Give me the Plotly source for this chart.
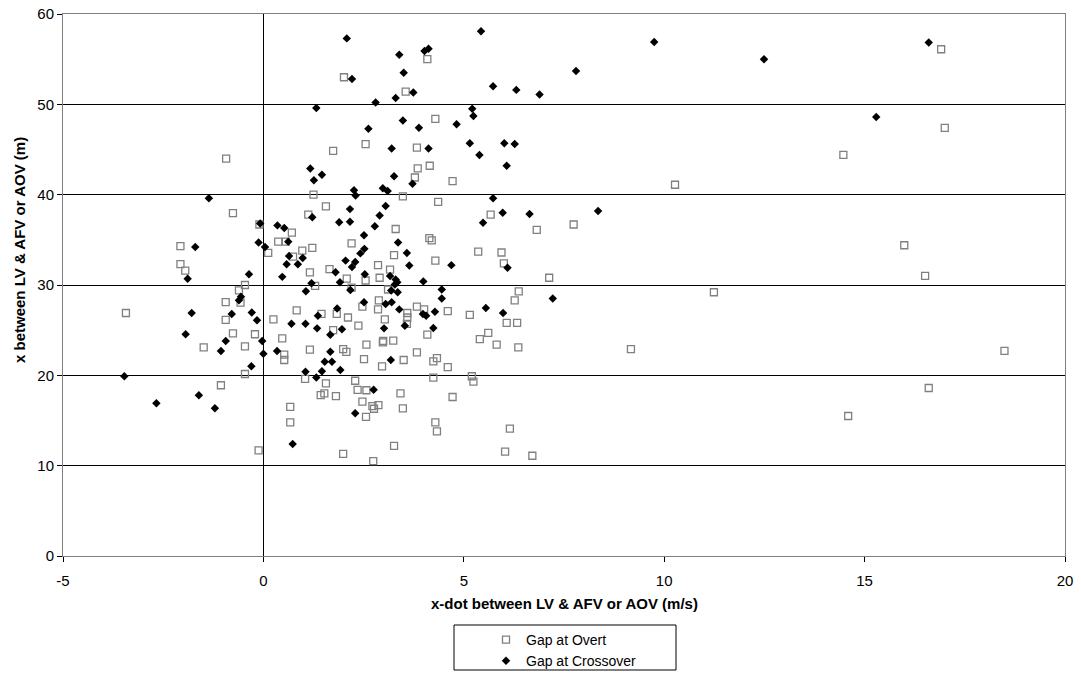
import plotly.graph_objects as go

# Gap at Overt (open squares): x-dot (m/s), x (m)
overt_xdot = [-0.93, 2.01, 3.55, 2.55, 1.74, 3.83, 4.09, 4.29, 4.15, -0.76,
              -2.07, -2.07, -1.95, -0.46, -0.61, -0.94, -0.57, -3.43, -0.94, -0.76,
              -0.21, -1.49, -0.46, -0.46, -1.06, -0.12, 3.85, 3.78, 1.25, 3.48,
              1.56, 1.12, -0.10, 0.71, 3.30, 0.12, 0.37, 0.56, 2.20, 1.22,
              0.97, 0.74, 3.26, 2.86, 3.16, 1.65, 1.16, 2.08, 2.90, 2.55,
              1.29, 2.20, 3.11, 2.88, 2.86, 2.47, 3.59, 3.59, 3.58, 3.83,
              1.83, 2.11, 1.45, 0.83, 0.25, 3.03, 1.74, 2.37, 0.47, 0.52,
              0.52, 1.16, 1.99, 2.07, 2.57, 2.51, 2.99, 2.98, 3.24, 2.96,
              3.50, 3.83, 1.04, 1.56, 1.43, 1.52, 1.81, 2.29, 2.35, 2.57,
              2.47, 2.72, 2.76, 2.87, 2.56, 3.42, 3.48, 0.67, 0.67, 1.99,
              3.26, 2.74, 4.72, 4.36, 5.67, 6.82, 7.74, 4.14, 4.20, 5.36,
              5.94, 6.00, 4.29, 7.13, 6.37, 6.27, 4.01, 4.60, 5.15, 6.07,
              6.33, 4.09, 5.61, 5.40, 5.82, 6.36, 4.33, 4.24, 4.60, 4.24,
              5.20, 5.24, 4.72, 4.29, 4.33, 6.15, 6.03, 6.71, 10.27, 14.47,
              16.91, 17.00, 15.99, 16.51, 11.24, 9.17, 18.49, 16.60, 14.59]
overt_gap = [44.0, 53.0, 51.4, 45.6, 44.85, 45.2, 55.0, 48.4, 43.2, 37.95,
             34.3, 32.3, 31.6, 30.0, 29.4, 28.1, 28.05, 26.9, 26.15, 24.65,
             24.55, 23.1, 23.2, 20.15, 18.9, 11.7, 42.9, 41.9, 40.0, 39.8,
             38.7, 37.8, 36.7, 35.8, 36.2, 33.55, 34.8, 34.8, 34.6, 34.1,
             33.8, 33.15, 33.3, 32.2, 31.7, 31.75, 31.4, 30.7, 30.8, 30.5,
             29.9, 29.7, 29.5, 28.3, 27.3, 27.6, 26.9, 26.4, 25.7, 27.6,
             26.8, 26.4, 26.8, 27.2, 26.2, 26.2, 25.0, 25.5, 24.1, 22.3,
             21.7, 22.85, 22.9, 22.6, 23.4, 21.8, 23.8, 23.65, 23.85, 21.0,
             21.7, 22.55, 19.6, 19.1, 17.8, 18.0, 17.7, 19.4, 18.4, 18.35,
             17.1, 16.6, 16.3, 16.7, 15.4, 18.0, 16.35, 16.5, 14.8, 11.3,
             12.2, 10.5, 41.5, 39.2, 37.8, 36.1, 36.7, 35.2, 34.95, 33.7,
             33.6, 32.4, 32.7, 30.8, 29.3, 28.3, 27.3, 27.1, 26.7, 25.8,
             25.8, 24.5, 24.7, 24.0, 23.4, 23.1, 21.9, 21.55, 20.9, 19.75,
             19.9, 19.3, 17.6, 14.8, 13.8, 14.1, 11.55, 11.1, 41.1, 44.4,
             56.1, 47.4, 34.4, 31.0, 29.2, 22.9, 22.7, 18.6, 15.5]

# Gap at Crossover (filled diamonds)
cross_xdot = [2.08, 3.39, 3.50, 2.21, 3.74, 2.80, 3.30, 1.32, 3.48, 2.62,
              3.88, 3.20, 5.43, 4.02, 4.12, 7.80, 5.73, 6.31, 6.89, 5.21,
              5.24, 4.82, 4.12, 5.15, 5.39, 6.01, 6.27, 6.07, -1.36, -0.08,
              -0.12, -1.70, -1.89, -0.36, -0.56, -0.61, -1.79, -0.79, -0.29, -0.16,
              -1.94, -0.94, -1.06, -0.03, -0.30, -3.47, -1.61, -2.67, -1.21, 1.17,
              1.26, 1.46, 3.26, 3.72, 2.26, 2.30, 2.98, 3.10, 2.16, 3.05,
              1.22, 2.90, 1.89, 2.16, 2.78, 0.35, 0.52, 2.51, 0.04, 0.62,
              3.36, 2.52, 2.42, 0.98, 0.64, 0.58, 0.86, 3.58, 2.05, 2.29,
              2.21, 3.64, 1.80, 2.53, 0.47, 3.16, 3.30, 3.34, 3.28, 1.91,
              1.20, 1.06, 2.17, 3.19, 3.35, 2.51, 3.05, 3.20, 3.39, 1.84,
              1.36, 0.70, 1.05, 1.34, 1.96, 1.67, 3.01, 3.53, 0.00, 0.34,
              1.67, 3.18, 1.53, 1.71, 1.92, 1.46, 1.05, 1.32, 2.75, 2.29,
              0.73, 5.73, 5.97, 6.64, 5.48, 8.35, 6.09, 4.69, 3.99, 7.22,
              4.45, 4.45, 3.98, 4.06, 4.28, 5.55, 5.98, 4.24, 9.75, 12.49,
              16.60, 15.29]
cross_gap = [57.3, 55.5, 53.5, 52.8, 51.3, 50.2, 50.7, 49.6, 48.2, 47.3,
             47.4, 45.1, 58.1, 55.9, 56.15, 53.7, 52.0, 51.6, 51.1, 49.5,
             48.7, 47.8, 45.1, 45.7, 44.4, 45.7, 45.6, 43.2, 39.6, 36.8,
             34.7, 34.2, 30.7, 31.2, 28.7, 28.3, 26.9, 26.8, 26.95, 26.1,
             24.55, 23.8, 22.7, 23.8, 21.0, 19.9, 17.8, 16.9, 16.35, 42.9,
             41.6, 42.2, 42.05, 41.2, 40.5, 39.9, 40.7, 40.4, 38.4, 38.75,
             37.5, 37.7, 36.95, 37.0, 36.5, 36.6, 36.3, 35.5, 34.2, 34.8,
             34.7, 34.0, 33.5, 33.0, 33.2, 32.3, 32.3, 33.55, 32.7, 32.55,
             32.0, 32.15, 31.4, 31.2, 30.9, 31.0, 30.6, 30.3, 30.05, 30.3,
             30.2, 29.3, 29.45, 29.4, 29.2, 28.1, 27.9, 28.1, 27.3, 27.4,
             26.6, 25.7, 25.7, 25.2, 25.1, 24.5, 25.2, 25.5, 22.4, 22.7,
             22.6, 21.7, 21.5, 21.5, 20.6, 20.45, 20.4, 19.75, 18.4, 15.8,
             12.4, 39.6, 38.0, 37.85, 36.9, 38.2, 31.9, 32.2, 30.4, 28.5,
             29.5, 28.5, 26.8, 26.6, 27.05, 27.45, 26.9, 25.25, 56.9, 55.0,
             56.85, 48.6]

x_ticks = [-5, 0, 5, 10, 15, 20]
y_ticks = [0, 10, 20, 30, 40, 50, 60]
x_title = "x-dot between LV & AFV or AOV (m/s)"
y_title = "x between LV & AFV or AOV (m)"

FONT = "Liberation Sans, Arial, sans-serif"
W, H = 1081, 674
L, R, T, B = 63, 16, 14, 118
PW, PH = W - L - R, H - T - B


def px_x(p):
    return (p - L) / PW


def px_y(p):
    return (H - B - p) / PH


fig = go.Figure()
fig.add_trace(go.Scatter(
    x=overt_xdot, y=overt_gap, mode="markers", name="Gap at Overt",
    marker=dict(symbol="square-open", size=7, color="#808080",
                line=dict(width=1.3, color="#808080")),
))
fig.add_trace(go.Scatter(
    x=cross_xdot, y=cross_gap, mode="markers", name="Gap at Crossover",
    marker=dict(symbol="diamond", size=6.5, color="black"),
))

fig.update_layout(
    width=W, height=H,
    margin=dict(l=L, r=R, t=T, b=B, autoexpand=False),
    paper_bgcolor="white", plot_bgcolor="white",
    font=dict(family=FONT, size=15, color="black"),
    showlegend=True,
    legend=dict(
        orientation="v", x=0.5, xanchor="center",
        yref="container", y=(H - 624) / H, yanchor="top",
        borderwidth=0, bgcolor="rgba(0,0,0,0)",
        font=dict(family=FONT, size=14, color="black"),
        itemsizing="trace", tracegroupgap=0,
    ),
    shapes=[dict(type="rect", xref="paper", yref="paper",
                 x0=px_x(454), x1=px_x(676), y0=px_y(670), y1=px_y(625),
                 line=dict(color="black", width=1), fillcolor="rgba(0,0,0,0)",
                 layer="below")],
    annotations=[
        dict(text="<b>" + x_title + "</b>", xref="paper", yref="paper",
             x=0.5, y=px_y(603), xanchor="center", yanchor="middle",
             showarrow=False, font=dict(family=FONT, size=15, color="black")),
        dict(text="<b>" + y_title + "</b>", xref="paper", yref="paper",
             x=px_x(19), y=px_y(250), xanchor="center", yanchor="middle",
             textangle=-90, showarrow=False,
             font=dict(family=FONT, size=15, color="black")),
    ],
)

fig.update_xaxes(
    range=[-5, 20], tickvals=x_ticks, ticktext=[str(v) for v in x_ticks],
    automargin=False,
    showgrid=False, zeroline=True, zerolinecolor="black", zerolinewidth=1,
    showline=True, linecolor="#808080", linewidth=1, mirror=True,
    ticks="outside", ticklen=5, tickcolor="black", ticklabelstandoff=6,
    tickfont=dict(family=FONT, size=15, color="black"),
)
fig.update_yaxes(
    range=[0, 60], tickvals=y_ticks, ticktext=[str(v) for v in y_ticks],
    automargin=False,
    showgrid=True, gridcolor="black", gridwidth=1, zeroline=False,
    showline=True, linecolor="#808080", linewidth=1, mirror=True,
    ticks="outside", ticklen=5, tickcolor="black",
    tickfont=dict(family=FONT, size=15, color="black"),
)

fig.write_html("out.html", config={"displayModeBar": False},
               post_script="document.body.style.margin='0';")
